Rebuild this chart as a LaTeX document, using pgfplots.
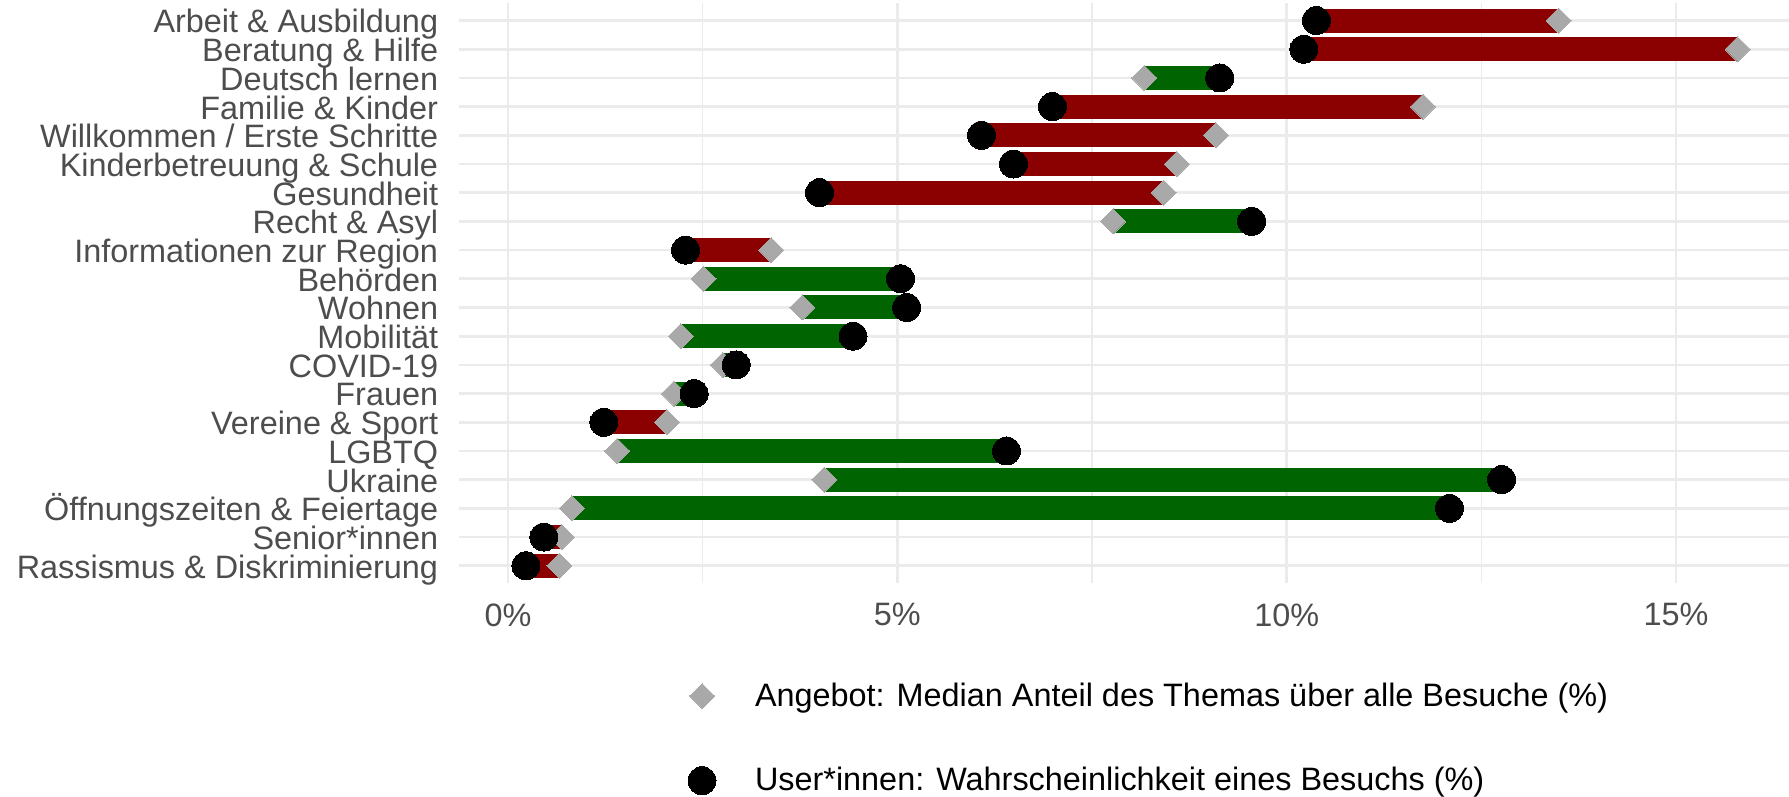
\documentclass[border=0pt]{standalone}
\usepackage{fontspec}
\setmainfont{Liberation Sans}
\usepackage{pgfplots}
\pgfplotsset{compat=1.18}
\usepackage{pgfplotstable}
\definecolor{gridgray}{HTML}{EBEBEB}
\definecolor{labgray}{HTML}{4D4D4D}
\definecolor{barred}{HTML}{8B0000}
\definecolor{bargreen}{HTML}{006400}
\definecolor{diagray}{HTML}{A9A9A9}

\pgfplotstableread{
y angebot user
20 13.49 10.38
19 15.79 10.22
18 8.17 9.14
17 11.75 6.99
16 9.09 6.08
15 8.59 6.49
14 8.42 4.00
13 7.77 9.55
12 3.38 2.28
11 2.51 5.04
10 3.78 5.12
9 2.22 4.43
8 2.76 2.93
7 2.13 2.39
6 2.04 1.23
5 1.40 6.40
4 4.06 12.76
3 0.82 12.09
2 0.69 0.46
1 0.66 0.23
}\dumbbell

\begin{document}
\begin{tikzpicture}
\path[use as bounding box] (-229.5pt,-107pt) rectangle (665pt,291.5pt);
\begin{axis}[
  at={(0pt,0pt)}, anchor=south west,
  scale only axis, width=665pt, height=289.85pt,
  xmin=-0.63, xmax=16.45, ymin=0.4, ymax=20.6,
  clip=false,
  axis x line*=bottom, axis y line*=left,
  axis line style={draw=none},
  major tick length=0pt, minor tick length=0pt,
  xtick={0,5,10,15},
  xticklabels={0\%,5\%,10\%,15\%},
  minor xtick={2.5,7.5,12.5},
  ytick={1,...,20},
  yticklabels={Rassismus \& Diskriminierung,Senior*innen,Öffnungszeiten \& Feiertage,Ukraine,LGBTQ,Vereine \& Sport,Frauen,COVID-19,Mobilität,Wohnen,Behörden,Informationen zur Region,Recht \& Asyl,Gesundheit,Kinderbetreuung \& Schule,Willkommen / Erste Schritte,Familie \& Kinder,Deutsch lernen,Beratung \& Hilfe,Arbeit \& Ausbildung},
  xmajorgrids, xminorgrids, ymajorgrids,
  major grid style={draw=gridgray, line width=1.35pt},
  minor grid style={draw=gridgray, line width=0.7pt},
  tick label style={font=\fontsize{16.2}{19}\selectfont, text=labgray},
  xticklabel style={inner sep=0pt, anchor=north, yshift=-10pt},
  yticklabel style={inner sep=0pt, anchor=base east, xshift=-10.25pt, yshift=-6.2pt},
  legend image code/.code={\path[draw=none,fill=none] (-8pt,-8pt) rectangle (8pt,8pt); \draw[#1] plot coordinates {(0pt,0pt)};},
  legend cell align=left,
  legend style={draw=none, fill=none, at={(axis description cs:0.1707,-0.1673)}, anchor=north west,
    inner sep=0pt, outer sep=0pt, row sep=26.35pt, /tikz/column sep=18.5pt,
    nodes={inner sep=0pt, text=black, font=\fontsize{16.2}{19}\selectfont}},
]
% segments
\addplot[barred, line width=12pt, forget plot] coordinates {(10.38,20) (13.49,20)};
\addplot[barred, line width=12pt, forget plot] coordinates {(10.22,19) (15.79,19)};
\addplot[bargreen, line width=12pt, forget plot] coordinates {(8.17,18) (9.14,18)};
\addplot[barred, line width=12pt, forget plot] coordinates {(6.99,17) (11.75,17)};
\addplot[barred, line width=12pt, forget plot] coordinates {(6.08,16) (9.09,16)};
\addplot[barred, line width=12pt, forget plot] coordinates {(6.49,15) (8.59,15)};
\addplot[barred, line width=12pt, forget plot] coordinates {(4.00,14) (8.42,14)};
\addplot[bargreen, line width=12pt, forget plot] coordinates {(7.77,13) (9.55,13)};
\addplot[barred, line width=12pt, forget plot] coordinates {(2.28,12) (3.38,12)};
\addplot[bargreen, line width=12pt, forget plot] coordinates {(2.51,11) (5.04,11)};
\addplot[bargreen, line width=12pt, forget plot] coordinates {(3.78,10) (5.12,10)};
\addplot[bargreen, line width=12pt, forget plot] coordinates {(2.22,9) (4.43,9)};
\addplot[bargreen, line width=12pt, forget plot] coordinates {(2.76,8) (2.93,8)};
\addplot[bargreen, line width=12pt, forget plot] coordinates {(2.13,7) (2.39,7)};
\addplot[barred, line width=12pt, forget plot] coordinates {(1.23,6) (2.04,6)};
\addplot[bargreen, line width=12pt, forget plot] coordinates {(1.40,5) (6.40,5)};
\addplot[bargreen, line width=12pt, forget plot] coordinates {(4.06,4) (12.76,4)};
\addplot[bargreen, line width=12pt, forget plot] coordinates {(0.82,3) (12.09,3)};
\addplot[barred, line width=12pt, forget plot] coordinates {(0.46,2) (0.69,2)};
\addplot[barred, line width=12pt, forget plot] coordinates {(0.23,1) (0.66,1)};
% markers
\addplot[diagray, only marks, mark=square*, mark size=4.42pt, mark options={rotate=45, draw=diagray, fill=diagray, line width=0pt}] table[x=angebot, y=y] {\dumbbell};
\addlegendentry{Angebot: Median Anteil des Themas über alle Besuche (\%)}
\addplot[black, only marks, mark=*, mark size=7pt, mark options={draw=black, fill=black, line width=0pt}] table[x=user, y=y] {\dumbbell};
\addlegendentry{User*innen: Wahrscheinlichkeit eines Besuchs (\%)}
\end{axis}
\end{tikzpicture}
\end{document}
